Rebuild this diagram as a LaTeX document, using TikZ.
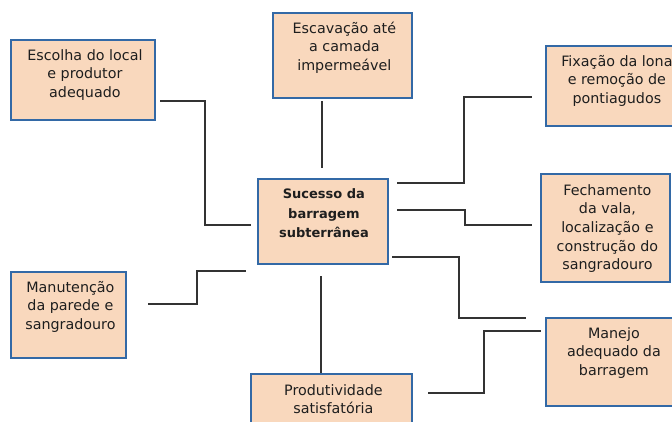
\documentclass[tikz,border=0pt]{standalone}
\usepackage{fontspec}
\setmainfont{DejaVu Sans}
\definecolor{peach}{HTML}{F9D8BD}
\definecolor{boxblue}{HTML}{3369A6}
\definecolor{linegray}{HTML}{333333}
\definecolor{txt}{HTML}{1E1E1E}
\tikzset{
  box/.style={draw=boxblue, line width=1.8pt, fill=peach, rectangle, inner sep=0pt, anchor=north west},
  lbl/.style={anchor=north, inner sep=0pt, align=center, text=txt, font=\fontsize{14.3}{18.6}\selectfont},
  blbl/.style={lbl, font=\fontsize{13}{19.5}\selectfont\bfseries},
  conn/.style={draw=linegray, line width=1.3pt}
}
\begin{document}
\begin{tikzpicture}[x=1pt,y=-1pt]
\useasboundingbox (0,0) rectangle (672,421);
\clip (0,0) rectangle (672,421);
% boxes
\node[box, minimum width=144pt, minimum height=80pt] (esc) at (10,39) {};
\node[box, minimum width=139pt, minimum height=85pt] (exc) at (272,12) {};
\node[box, minimum width=138pt, minimum height=80pt] (fix) at (545,45) {};
\node[box, minimum width=129pt, minimum height=108pt] (fec) at (540,173) {};
\node[box, minimum width=132pt, minimum height=88pt] (man) at (545,317) {};
\node[box, minimum width=161pt, minimum height=70pt] (prod) at (250,373) {};
\node[box, minimum width=115pt, minimum height=86pt] (mnt) at (10,271) {};
\node[box, minimum width=130pt, minimum height=85pt] (ctr) at (257,178) {};
% labels
\node[lbl] (tesc) at ([xshift=2pt,yshift=-8pt]esc.north) {\strut Escolha do local\\e produtor\\adequado};
\node[lbl] (texc) at ([xshift=2pt,yshift=-8pt]exc.north) {\strut Escavação até\\a camada\\impermeável};
\node[lbl] (tfix) at ([xshift=2pt,yshift=-8pt]fix.north) {\strut Fixação da lona\\e remoção de\\pontiagudos};
\node[lbl] (tfec) at ([xshift=2pt,yshift=-9pt]fec.north) {\strut Fechamento\\da vala,\\localização e\\construção do\\sangradouro};
\node[lbl] (tman) at ([xshift=2pt,yshift=-8pt]man.north) {\strut Manejo\\adequado da\\barragem};
\node[lbl] (tprod) at ([xshift=2pt,yshift=-9pt]prod.north) {\strut Produtividade\\satisfatória};
\node[lbl] (tmnt) at ([xshift=2pt,yshift=-8pt]mnt.north) {\strut Manutenção\\da parede e\\sangradouro};
\node[blbl] (tctr) at ([xshift=1pt,yshift=-7pt]ctr.north) {\strut Sucesso da\\barragem\\subterrânea};
% connector end points
\coordinate (e1) at (160,101); \coordinate (e2) at (251,225);
\coordinate (x1) at (322,101); \coordinate (x2) at (322,168);
\coordinate (f1) at (397,183); \coordinate (f2) at (532,97);
\coordinate (c1) at (397,210); \coordinate (c2) at (532,225);
\coordinate (m1) at (392,257); \coordinate (m2) at (526,318);
\coordinate (p1) at (428,393); \coordinate (p2) at (541,331);
\coordinate (n1) at (148,304); \coordinate (n2) at (246,271);
\coordinate (d1) at (321,276);
% connectors
\draw[conn] (e1) -- (205,101) |- (e2);
\draw[conn] (x1) -- (x2);
\draw[conn] (f1) -- (464,183) |- (f2);
\draw[conn] (c1) -- (465,210) |- (c2);
\draw[conn] (m1) -- (459,257) |- (m2);
\draw[conn] (p1) -- (484,393) |- (p2);
\draw[conn] (n1) -- (197,304) |- (n2);
\draw[conn] (d1) -- (prod.north -| d1);
\end{tikzpicture}
\end{document}
